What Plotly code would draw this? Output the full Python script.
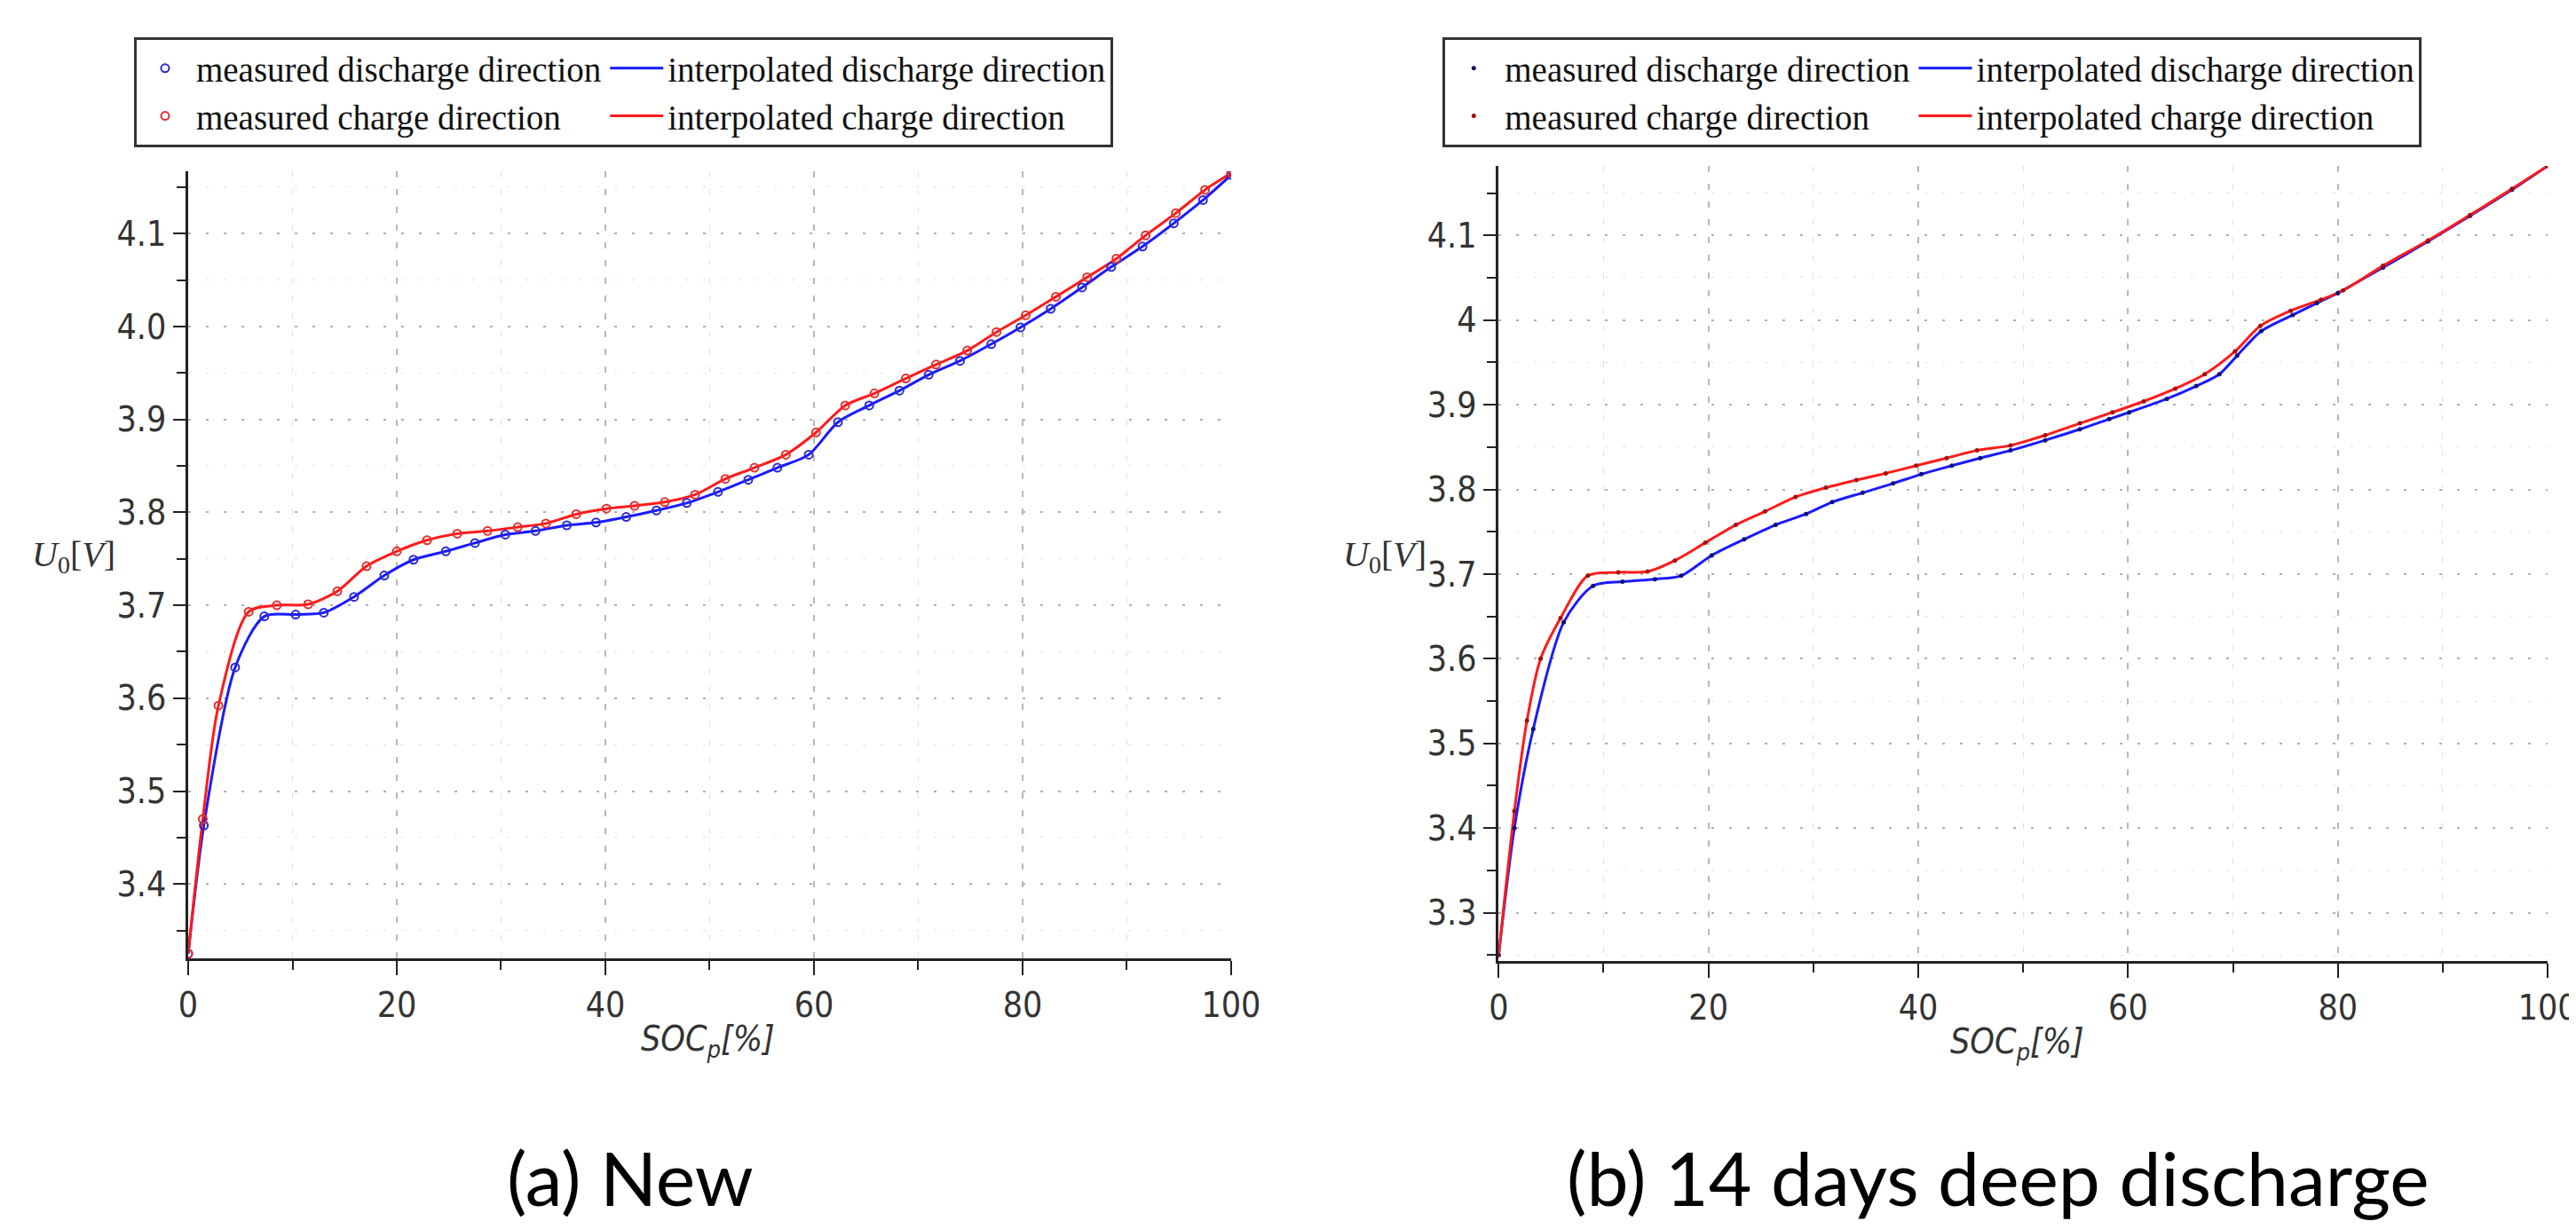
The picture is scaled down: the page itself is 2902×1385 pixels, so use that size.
import plotly.graph_objects as go

# ---------------- data ----------------
# (a) New
a_dis_soc = [0, 1.5, 4.5, 7.3, 10.3, 13.0, 15.9, 18.8, 21.6, 24.7, 27.5, 30.4, 33.3, 36.3, 39.1,
             42.0, 44.9, 47.8, 50.8, 53.7, 56.5, 59.5, 62.3, 65.3, 68.2, 71.0, 74.0, 77.0, 79.8,
             82.7, 85.7, 88.5, 91.5, 94.5, 97.3, 100]
a_dis_u = [3.325, 3.463, 3.633, 3.688, 3.690, 3.692, 3.709, 3.732, 3.749, 3.758, 3.767, 3.776,
           3.780, 3.786, 3.789, 3.795, 3.802, 3.810, 3.822, 3.835, 3.848, 3.862, 3.897, 3.915,
           3.931, 3.948, 3.963, 3.981, 3.999, 4.019, 4.042, 4.064, 4.086, 4.111, 4.136, 4.163]
a_chg_soc = [0, 1.4, 2.9, 5.8, 8.5, 11.5, 14.3, 17.1, 20.0, 22.9, 25.8, 28.7, 31.6, 34.3, 37.2,
             40.1, 42.8, 45.7, 48.6, 51.5, 54.3, 57.3, 60.2, 63.0, 65.8, 68.8, 71.7, 74.7, 77.5,
             80.3, 83.2, 86.2, 89.0, 91.8, 94.7, 97.5, 100]
a_chg_u = [3.325, 3.470, 3.592, 3.693, 3.700, 3.701, 3.715, 3.742, 3.758, 3.770, 3.777, 3.780,
           3.784, 3.788, 3.798, 3.804, 3.807, 3.811, 3.819, 3.836, 3.848, 3.862, 3.886, 3.915,
           3.928, 3.944, 3.959, 3.974, 3.994, 4.012, 4.032, 4.053, 4.073, 4.098, 4.122, 4.147, 4.165]

# (b) 14 days deep discharge
b_dis_soc = [0, 1.5, 3.3, 6.2, 9.0, 11.8, 14.9, 17.4, 20.3, 23.4, 26.4, 29.3, 31.8, 34.7, 37.6,
             40.3, 43.2, 45.9, 48.8, 52.1, 55.4, 58.2, 60.1, 63.7, 66.5, 68.7, 70.4, 72.7, 75.7,
             78.0, 80.0, 84.3, 88.6, 92.6, 96.6, 100]
b_dis_u = [3.250, 3.400, 3.517, 3.643, 3.686, 3.691, 3.694, 3.698, 3.722, 3.741, 3.758, 3.771,
           3.785, 3.796, 3.807, 3.818, 3.828, 3.837, 3.846, 3.858, 3.871, 3.883, 3.891, 3.907,
           3.922, 3.936, 3.958, 3.987, 4.006, 4.020, 4.032, 4.062, 4.093, 4.123, 4.154, 4.182]
b_chg_soc = [0, 1.5, 2.7, 4.0, 5.9, 8.5, 11.4, 14.2, 16.8, 19.7, 22.6, 25.4, 28.3, 31.2, 34.1,
             36.9, 39.8, 42.7, 45.6, 48.8, 52.1, 55.4, 58.5, 61.5, 64.5, 67.3, 70.2, 72.6, 75.5,
             78.4, 80.5, 84.3, 88.6, 92.6, 96.6, 100]
b_chg_u = [3.250, 3.420, 3.527, 3.600, 3.648, 3.698, 3.702, 3.703, 3.716, 3.737, 3.758, 3.774,
           3.791, 3.802, 3.811, 3.819, 3.828, 3.837, 3.846, 3.852, 3.864, 3.878, 3.891, 3.904,
           3.919, 3.936, 3.963, 3.993, 4.011, 4.024, 4.035, 4.064, 4.094, 4.124, 4.155, 4.182]

names = ["measured discharge direction", "measured charge direction",
         "interpolated discharge direction", "interpolated charge direction"]
captions = ["(a) New", "(b) 14 days deep discharge"]
x_ticks = [0, 20, 40, 60, 80, 100]

# ---------------- style ----------------
BLUE = "#1a1aff"
RED = "#ff1a1a"
AX = "#222222"
TICKFONT = dict(family="Liberation Sans Narrow, DejaVu Sans Condensed, sans-serif", size=39, color="#333333")
LEGFONT = dict(family="Liberation Serif, DejaVu Serif, serif", size=39, color="#111111")

fig = go.Figure()


def panel(xa, ya, leg, dis_x, dis_y, chg_x, chg_y, marker, mc):
    # interpolated lines first (drawn under markers), ranked after measured in legend
    fig.add_trace(go.Scatter(x=dis_x, y=dis_y, mode="lines", name=names[2],
                             line=dict(color=BLUE, width=3, shape="spline", smoothing=0.8),
                             xaxis=xa, yaxis=ya, legend=leg, legendgroup=leg + "i", legendrank=3))
    fig.add_trace(go.Scatter(x=chg_x, y=chg_y, mode="lines", name=names[3],
                             line=dict(color=RED, width=3, shape="spline", smoothing=0.8),
                             xaxis=xa, yaxis=ya, legend=leg, legendgroup=leg + "i", legendrank=4))
    fig.add_trace(go.Scatter(x=dis_x, y=dis_y, mode="markers", name=names[0],
                             marker=dict(color=mc[0], **marker),
                             xaxis=xa, yaxis=ya, legend=leg, legendgroup=leg + "m", legendrank=1))
    fig.add_trace(go.Scatter(x=chg_x, y=chg_y, mode="markers", name=names[1],
                             marker=dict(color=mc[1], **marker),
                             xaxis=xa, yaxis=ya, legend=leg, legendgroup=leg + "m", legendrank=2))


panel("x", "y", "legend", a_dis_soc, a_dis_u, a_chg_soc, a_chg_u,
      dict(symbol="circle-open", size=9, line=dict(width=2)), ("#2a2ad0", "#e03030"))
panel("x2", "y2", "legend2", b_dis_soc, b_dis_u, b_chg_soc, b_chg_u,
      dict(symbol="circle", size=5), ("#101070", "#a01010"))


def xaxis(domain, anchor):
    return dict(domain=domain, anchor=anchor, range=[0, 100], tickvals=x_ticks,
                ticks="outside", ticklen=16, tickwidth=2, tickcolor=AX,
                showline=True, linewidth=3, linecolor=AX, zeroline=False,
                showgrid=True, gridcolor="#b8b8b8", gridwidth=1.5, griddash="7px,13px",
                tickfont=TICKFONT,
                minor=dict(dtick=10, tick0=0, ticks="outside", ticklen=10, tickwidth=2,
                           tickcolor=AX, showgrid=True, gridcolor="#e2e2e2", gridwidth=1.2,
                           griddash="7px,13px"))


def yaxis(domain, anchor, rng, tick0, fmt):
    d = dict(domain=domain, anchor=anchor, range=rng, dtick=0.1, tick0=tick0,
             ticks="outside", ticklen=14, tickwidth=2, tickcolor=AX,
             showline=True, linewidth=3, linecolor=AX, zeroline=False,
             showgrid=True, gridcolor="#b0b0b0", gridwidth=1.5, griddash="3px,17px",
             tickfont=TICKFONT,
             minor=dict(dtick=0.05, tick0=tick0 - 0.05, ticks="outside", ticklen=10, tickwidth=2,
                        tickcolor=AX, showgrid=True, gridcolor="#e0e0e0", gridwidth=1.2,
                        griddash="3px,17px"))
    if fmt:
        d["tickformat"] = fmt
    return d


W, H = 2902, 1385


def legend(xpx):
    return dict(x=xpx / W, y=1 - 34 / H, xanchor="left", yanchor="top",
                orientation="h", traceorder="grouped", font=LEGFONT,
                bgcolor="white", bordercolor="#333333", borderwidth=3,
                itemwidth=60)


ann_font_u = dict(family="Liberation Serif, DejaVu Serif, serif", size=40, color="#333333")
ann_font_s = dict(family="Liberation Sans Narrow, DejaVu Sans Condensed, sans-serif", size=39, color="#333333")
cap_font = dict(family="Lato, Open Sans, sans-serif", size=84, color="#000000")

annotations = [
    dict(text="<i>U</i><sub>0</sub>[<i>V</i>]", x=65 / W, y=1 - 619 / H, xref="paper", yref="paper",
         showarrow=False, font=ann_font_u, xanchor="center", yanchor="middle"),
    dict(text="<i>U</i><sub>0</sub>[<i>V</i>]", x=1565 / W, y=1 - 619 / H, xref="paper", yref="paper",
         showarrow=False, font=ann_font_u, xanchor="center", yanchor="middle"),
    dict(text="<i>SOC</i><sub><i>p</i></sub><i>[%]</i>", x=790 / W, y=1 - 1165 / H, xref="paper",
         yref="paper", showarrow=False, font=ann_font_s, xanchor="center", yanchor="middle"),
    dict(text="<i>SOC</i><sub><i>p</i></sub><i>[%]</i>", x=2288 / W, y=1 - 1168 / H, xref="paper",
         yref="paper", showarrow=False, font=ann_font_s, xanchor="center", yanchor="middle"),
    dict(text=captions[0], x=702 / W, y=1 - 1318 / H, xref="paper", yref="paper",
         showarrow=False, font=cap_font, xanchor="center", yanchor="middle"),
    dict(text=captions[1], x=2266 / W, y=1 - 1318 / H, xref="paper", yref="paper",
         showarrow=False, font=cap_font, xanchor="center", yanchor="middle"),
]

fig.update_layout(
    width=W, height=H,
    margin=dict(l=0, r=0, t=0, b=0),
    paper_bgcolor="white", plot_bgcolor="white",
    showlegend=True,
    xaxis=xaxis([196 / W, 1389 / W], "y"),
    yaxis=yaxis([1 - 1072 / H, 1 - 185 / H], "x", [3.32, 4.167], 3.4, ".1f"),
    xaxis2=xaxis([1695 / W, 2895 / W], "y2"),
    yaxis2=yaxis([1 - 1075 / H, 1 - 179 / H], "x2", [3.243, 4.182], 3.3, None),
    legend=legend(134),
    legend2=legend(1631),
    annotations=annotations,
)

fig.write_html("out.html")
